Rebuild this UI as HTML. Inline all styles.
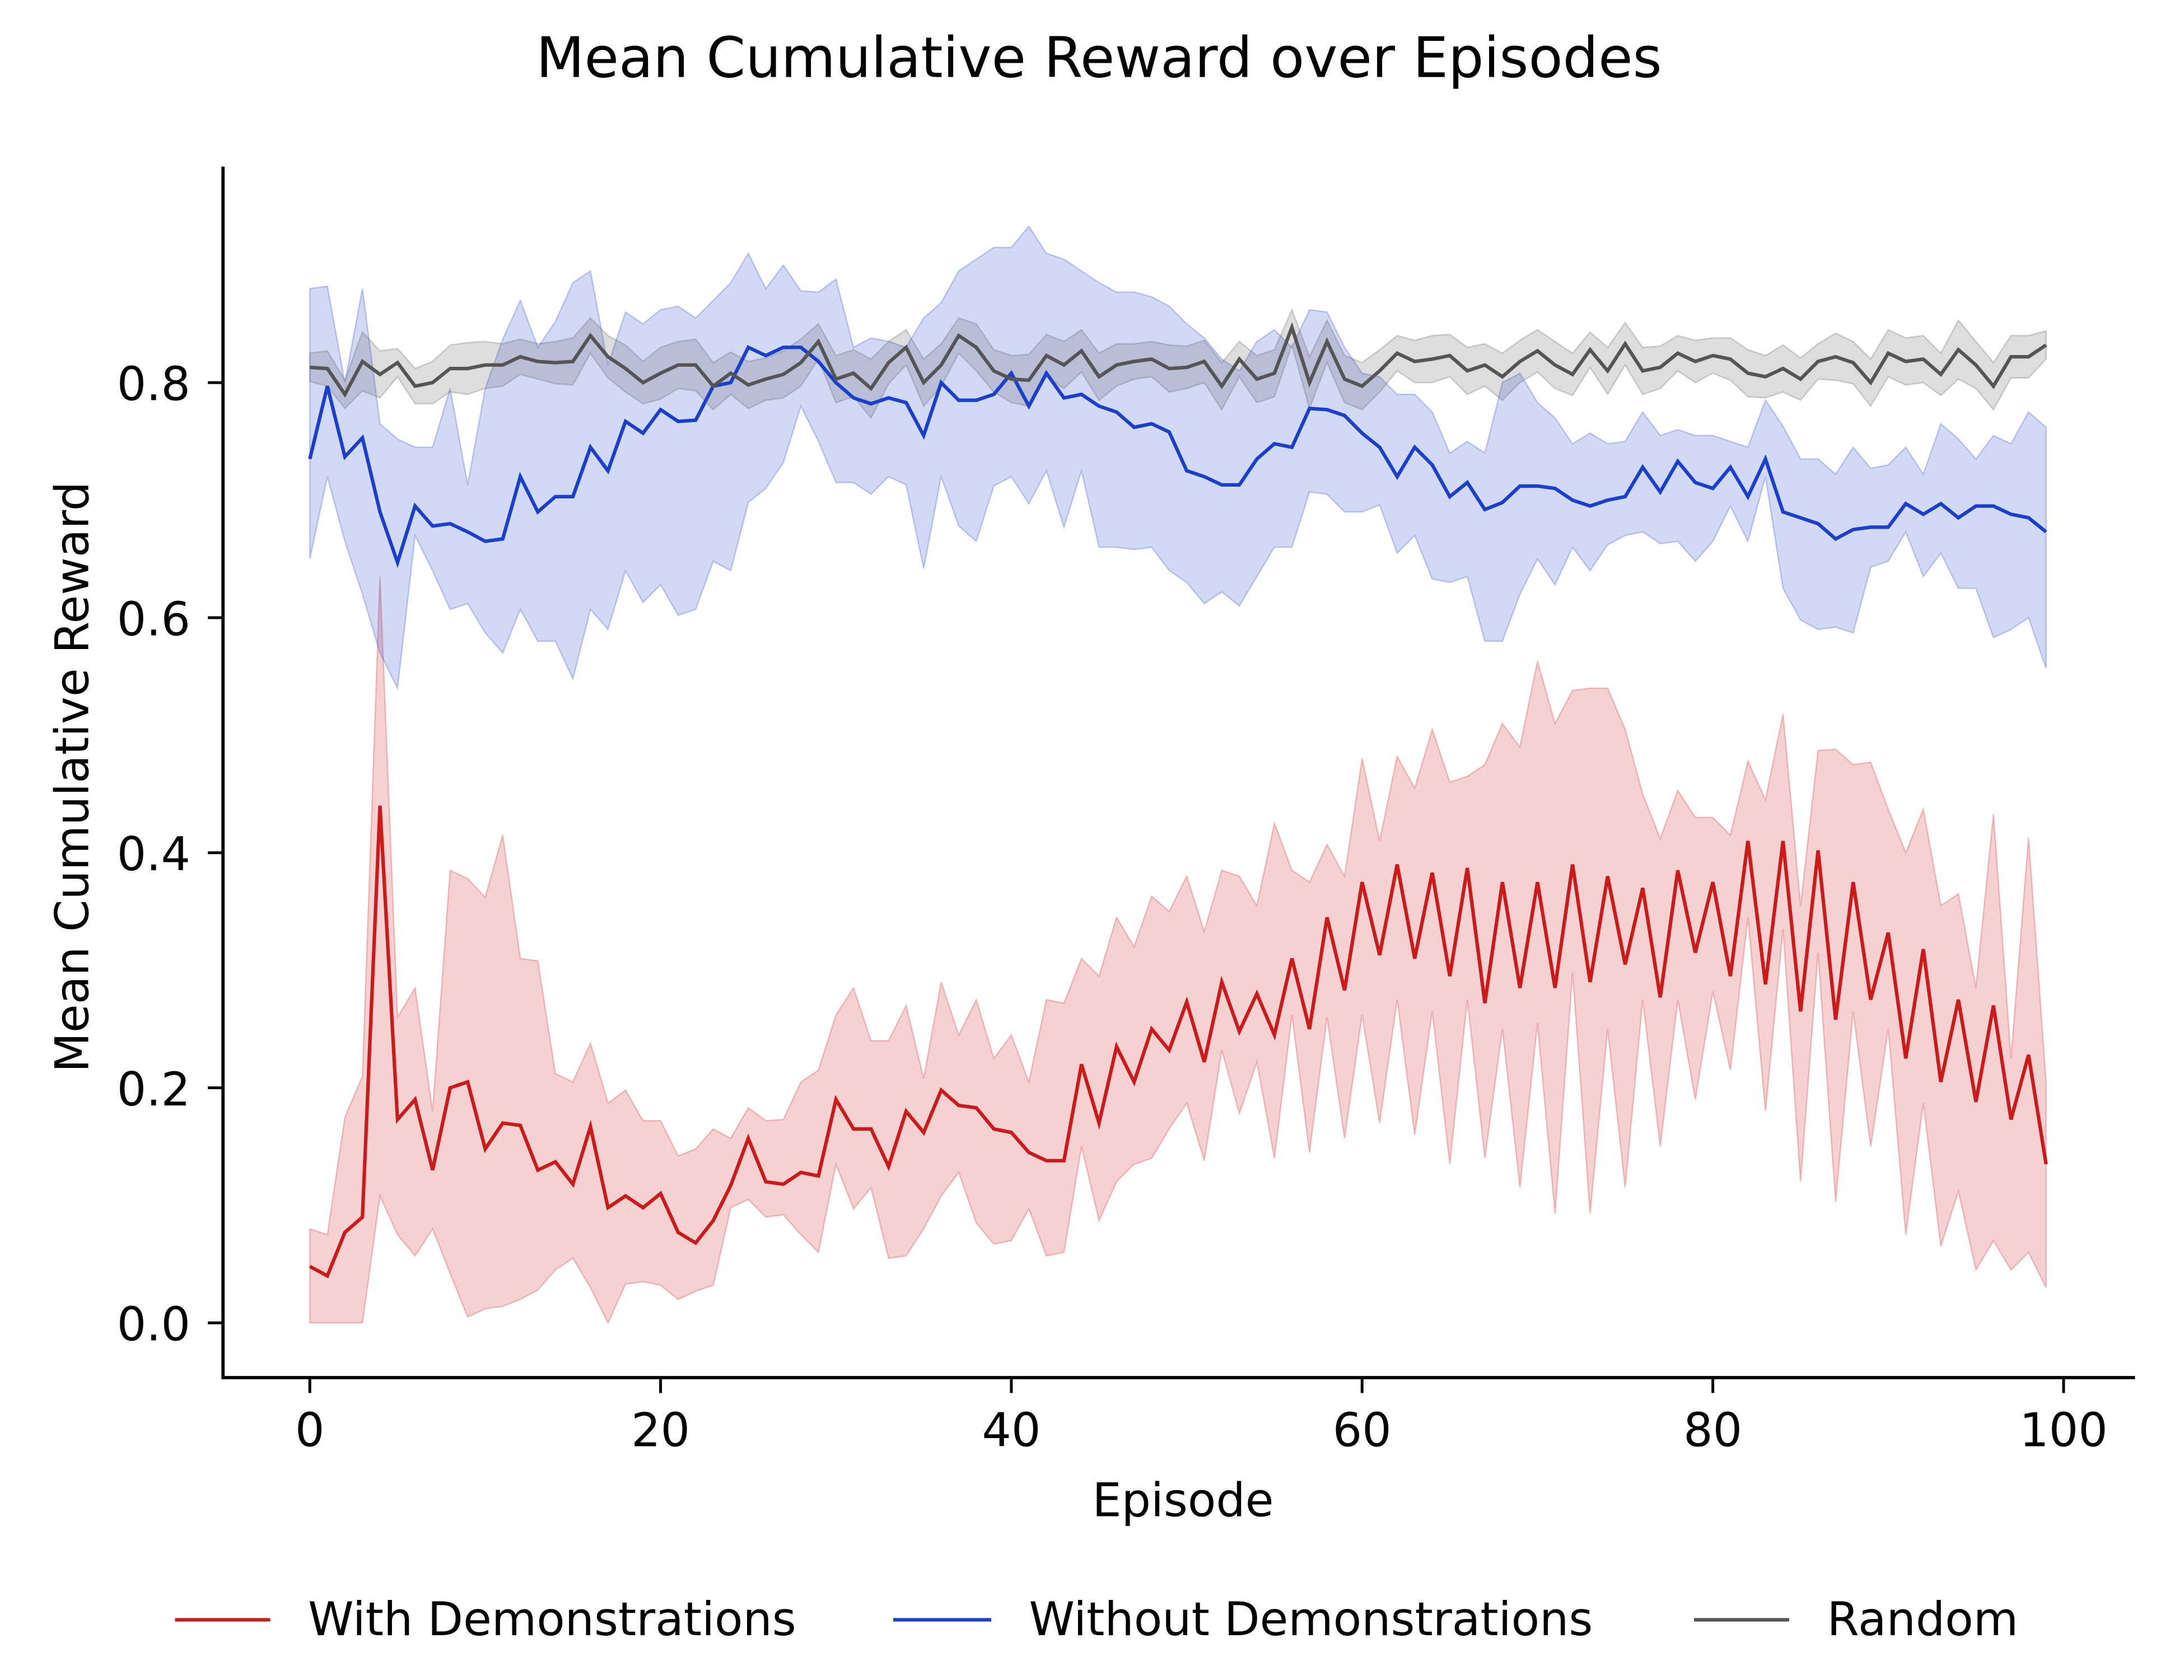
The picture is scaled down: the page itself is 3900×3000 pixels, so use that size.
<!DOCTYPE html>
<html><head><meta charset="utf-8"><style>
html,body{margin:0;padding:0;background:#fff;}
svg{display:block;font-family:"DejaVu Sans","Liberation Sans",sans-serif;}
</style></head><body>
<svg id="chart" width="3900" height="3000" viewBox="0 0 1560 1200" xmlns="http://www.w3.org/2000/svg">
<rect width="1560" height="1200" fill="#fff"/>
<text x="785" y="55" font-size="40" text-anchor="middle" fill="#000">Mean Cumulative Reward over Episodes</text>
<g id="bands"></g><g id="lines"></g>
<line x1="159.3" y1="119" x2="159.3" y2="985" stroke="#000" stroke-width="2.3"/>
<line x1="158.2" y1="984" x2="1525" y2="984" stroke="#000" stroke-width="2.3"/>
<g id="xticks"></g><g id="yticks"></g>
<text x="845" y="1083" font-size="33" text-anchor="middle">Episode</text>
<text transform="translate(63,555) rotate(-90)" font-size="33" text-anchor="middle">Mean Cumulative Reward</text>
<g font-size="33">
<g><line x1="125" y1="1157" x2="193" y2="1157" stroke="#cc1a1a" stroke-width="2.5"/><text x="220" y="1168">With Demonstrations</text></g>
<g><line x1="638" y1="1157" x2="708" y2="1157" stroke="#1a3fcc" stroke-width="2.5"/><text x="735" y="1168">Without Demonstrations</text></g>
<g><line x1="1210" y1="1157" x2="1278" y2="1157" stroke="#555" stroke-width="2.5"/><text x="1305" y="1168">Random</text></g>
</g>
</svg>
<script>
const xTicks=[0,20,40,60,80,100];
const yTicks=[0.0,0.2,0.4,0.6,0.8];
const yTickLabels=["0.0","0.2","0.4","0.6","0.8"];
const redMean=[0.048,0.04,0.077,0.09,0.44,0.173,0.19,0.13,0.2,0.205,0.148,0.17,0.168,0.13,0.137,0.118,0.167,0.098,0.108,0.098,0.11,0.077,0.068,0.087,0.117,0.157,0.12,0.118,0.128,0.125,0.19,0.165,0.165,0.133,0.18,0.162,0.198,0.185,0.183,0.165,0.162,0.145,0.138,0.138,0.22,0.17,0.235,0.205,0.25,0.232,0.273,0.222,0.29,0.248,0.28,0.245,0.31,0.25,0.345,0.283,0.375,0.313,0.39,0.31,0.383,0.295,0.387,0.272,0.375,0.285,0.375,0.285,0.39,0.29,0.38,0.305,0.37,0.277,0.385,0.315,0.375,0.295,0.41,0.288,0.41,0.265,0.402,0.258,0.375,0.275,0.332,0.225,0.318,0.205,0.275,0.188,0.27,0.173,0.228,0.135];
const redUpper=[0.08,0.075,0.175,0.21,0.635,0.26,0.285,0.18,0.385,0.378,0.362,0.415,0.31,0.308,0.212,0.205,0.238,0.187,0.198,0.172,0.172,0.142,0.148,0.165,0.157,0.183,0.172,0.173,0.205,0.215,0.262,0.285,0.24,0.24,0.27,0.208,0.29,0.245,0.275,0.225,0.245,0.205,0.275,0.272,0.31,0.295,0.345,0.32,0.363,0.35,0.38,0.333,0.385,0.38,0.355,0.425,0.385,0.375,0.407,0.38,0.48,0.41,0.482,0.455,0.505,0.46,0.465,0.475,0.51,0.49,0.563,0.51,0.538,0.54,0.54,0.505,0.45,0.412,0.453,0.43,0.43,0.415,0.478,0.445,0.518,0.355,0.487,0.488,0.475,0.477,0.437,0.4,0.437,0.355,0.365,0.285,0.433,0.225,0.413,0.205];
const redLower=[0,0,0,0,0.108,0.075,0.057,0.08,0.042,0.005,0.012,0.014,0.02,0.028,0.045,0.055,0.03,0,0.033,0.035,0.032,0.02,0.027,0.032,0.098,0.105,0.09,0.092,0.075,0.06,0.135,0.097,0.115,0.055,0.057,0.08,0.108,0.128,0.085,0.067,0.07,0.097,0.057,0.06,0.15,0.087,0.12,0.135,0.14,0.165,0.187,0.138,0.232,0.178,0.222,0.14,0.262,0.145,0.26,0.157,0.262,0.17,0.275,0.16,0.265,0.135,0.275,0.14,0.25,0.115,0.255,0.093,0.298,0.093,0.25,0.115,0.275,0.15,0.275,0.19,0.282,0.215,0.345,0.18,0.335,0.12,0.315,0.103,0.265,0.15,0.25,0.075,0.187,0.065,0.112,0.045,0.07,0.045,0.06,0.03];
const blueMean=[0.735,0.797,0.737,0.753,0.69,0.647,0.695,0.678,0.68,0.673,0.665,0.667,0.72,0.69,0.703,0.703,0.745,0.725,0.767,0.757,0.777,0.767,0.768,0.797,0.8,0.83,0.823,0.83,0.83,0.818,0.8,0.787,0.782,0.787,0.783,0.755,0.8,0.785,0.785,0.79,0.808,0.78,0.808,0.787,0.79,0.78,0.775,0.762,0.765,0.758,0.725,0.72,0.713,0.713,0.735,0.748,0.745,0.778,0.777,0.772,0.757,0.745,0.72,0.745,0.73,0.703,0.715,0.692,0.698,0.712,0.712,0.71,0.7,0.695,0.7,0.703,0.728,0.707,0.733,0.715,0.71,0.728,0.703,0.735,0.69,0.685,0.68,0.667,0.675,0.677,0.677,0.697,0.688,0.697,0.685,0.695,0.695,0.688,0.685,0.673];
const blueUpper=[0.88,0.882,0.8,0.88,0.765,0.752,0.745,0.745,0.795,0.713,0.795,0.837,0.87,0.83,0.852,0.885,0.895,0.815,0.86,0.85,0.862,0.865,0.855,0.87,0.885,0.91,0.88,0.9,0.878,0.877,0.888,0.83,0.838,0.835,0.83,0.855,0.868,0.895,0.905,0.915,0.915,0.933,0.91,0.905,0.895,0.885,0.877,0.877,0.873,0.865,0.85,0.838,0.82,0.81,0.835,0.845,0.83,0.862,0.86,0.83,0.808,0.805,0.79,0.79,0.775,0.74,0.75,0.74,0.8,0.808,0.783,0.77,0.748,0.757,0.748,0.75,0.775,0.755,0.76,0.755,0.755,0.75,0.745,0.785,0.763,0.735,0.735,0.722,0.745,0.727,0.73,0.745,0.722,0.765,0.752,0.735,0.755,0.748,0.775,0.762];
const blueLower=[0.65,0.72,0.665,0.62,0.57,0.54,0.67,0.64,0.607,0.612,0.587,0.57,0.607,0.58,0.58,0.548,0.607,0.59,0.64,0.613,0.628,0.602,0.607,0.648,0.64,0.698,0.71,0.732,0.78,0.75,0.715,0.715,0.705,0.72,0.713,0.642,0.72,0.678,0.665,0.712,0.72,0.697,0.725,0.677,0.725,0.66,0.66,0.658,0.66,0.64,0.63,0.612,0.622,0.61,0.635,0.66,0.66,0.707,0.705,0.69,0.69,0.696,0.655,0.67,0.633,0.63,0.635,0.58,0.58,0.62,0.65,0.628,0.66,0.64,0.662,0.67,0.673,0.663,0.665,0.648,0.665,0.695,0.665,0.72,0.625,0.598,0.59,0.592,0.587,0.643,0.648,0.673,0.635,0.655,0.625,0.625,0.583,0.59,0.6,0.557];
const grayMean=[0.813,0.812,0.79,0.818,0.807,0.817,0.797,0.8,0.812,0.812,0.815,0.815,0.822,0.818,0.817,0.818,0.84,0.822,0.812,0.8,0.808,0.815,0.815,0.797,0.808,0.798,0.803,0.807,0.817,0.835,0.803,0.808,0.795,0.817,0.83,0.8,0.815,0.84,0.83,0.81,0.803,0.802,0.823,0.815,0.827,0.805,0.815,0.818,0.82,0.812,0.813,0.818,0.797,0.82,0.803,0.808,0.847,0.8,0.835,0.803,0.797,0.81,0.825,0.818,0.82,0.823,0.81,0.815,0.805,0.818,0.827,0.815,0.807,0.828,0.81,0.833,0.81,0.813,0.825,0.818,0.823,0.82,0.808,0.805,0.812,0.803,0.818,0.822,0.817,0.8,0.825,0.818,0.82,0.807,0.828,0.815,0.797,0.822,0.822,0.832];
const graySpread=[0.012,0.015,0.012,0.025,0.02,0.012,0.015,0.018,0.02,0.022,0.02,0.018,0.015,0.015,0.018,0.02,0.015,0.018,0.02,0.018,0.022,0.02,0.022,0.02,0.018,0.02,0.018,0.02,0.02,0.015,0.02,0.02,0.025,0.018,0.015,0.02,0.018,0.015,0.02,0.018,0.02,0.022,0.018,0.02,0.018,0.02,0.018,0.015,0.015,0.02,0.018,0.018,0.02,0.015,0.02,0.02,0.015,0.022,0.018,0.02,0.02,0.018,0.015,0.018,0.02,0.018,0.02,0.018,0.02,0.018,0.018,0.02,0.018,0.015,0.02,0.018,0.02,0.018,0.015,0.018,0.015,0.018,0.02,0.018,0.02,0.018,0.015,0.02,0.018,0.02,0.02,0.02,0.02,0.018,0.025,0.02,0.02,0.018,0.018,0.012];

const NS="http://www.w3.org/2000/svg";
function xs(v){return 221.3+(1474-221.3)*v/100;}
function ys(v){return 944.9-(944.9-273.3)*v/0.8;}
function mk(tag,attrs,parent){const e=document.createElementNS(NS,tag);for(const k in attrs)e.setAttribute(k,attrs[k]);document.getElementById(parent).appendChild(e);return e;}
function bandPath(lo,hi){let d="";for(let i=0;i<hi.length;i++)d+=(i?"L":"M")+xs(i).toFixed(2)+","+ys(hi[i]).toFixed(2);for(let i=lo.length-1;i>=0;i--)d+="L"+xs(i).toFixed(2)+","+ys(lo[i]).toFixed(2);return d+"Z";}
function linePath(m){let d="";for(let i=0;i<m.length;i++)d+=(i?"L":"M")+xs(i).toFixed(2)+","+ys(m[i]).toFixed(2);return d;}
const grayUpper=grayMean.map((v,i)=>v+graySpread[i]);
const grayLower=grayMean.map((v,i)=>v-graySpread[i]);

let e;
e=mk("path",{d:bandPath(redLower,redUpper),fill:"#cc1a1a","fill-opacity":0.2,stroke:"#cc1a1a","stroke-opacity":0.25,"stroke-width":1},"bands");


e=mk("path",{d:bandPath(blueLower,blueUpper),fill:"#1a3fcc","fill-opacity":0.2,stroke:"#1a3fcc","stroke-opacity":0.25,"stroke-width":1},"bands");


e=mk("path",{d:bandPath(grayLower,grayUpper),fill:"#555","fill-opacity":0.2,stroke:"#555","stroke-opacity":0.25,"stroke-width":1},"bands");


e=mk("path",{d:linePath(redMean),fill:"none",stroke:"#cc1a1a","stroke-width":2.5},"lines");


e=mk("path",{d:linePath(blueMean),fill:"none",stroke:"#1a3fcc","stroke-width":2.5},"lines");


e=mk("path",{d:linePath(grayMean),fill:"none",stroke:"#555","stroke-width":2.5},"lines");



xTicks.forEach(t=>{
  const x=xs(t);
  e=mk("line",{x1:x,y1:984,x2:x,y2:995,stroke:"#000","stroke-width":2},"xticks");
  
  
  e=mk("text",{x:x,y:1033,"font-size":33,"text-anchor":"middle"},"xticks");
  e.textContent=String(t);
  
  
});
yTicks.forEach((t,i)=>{
  const y=ys(t);
  e=mk("line",{x1:148.5,y1:y,x2:159.3,y2:y,stroke:"#000","stroke-width":2},"yticks");
  
  
  e=mk("text",{x:136,y:y+12.5,"font-size":33,"text-anchor":"end"},"yticks");
  e.textContent=yTickLabels[i];
  
  
});
</script>
</body></html>
